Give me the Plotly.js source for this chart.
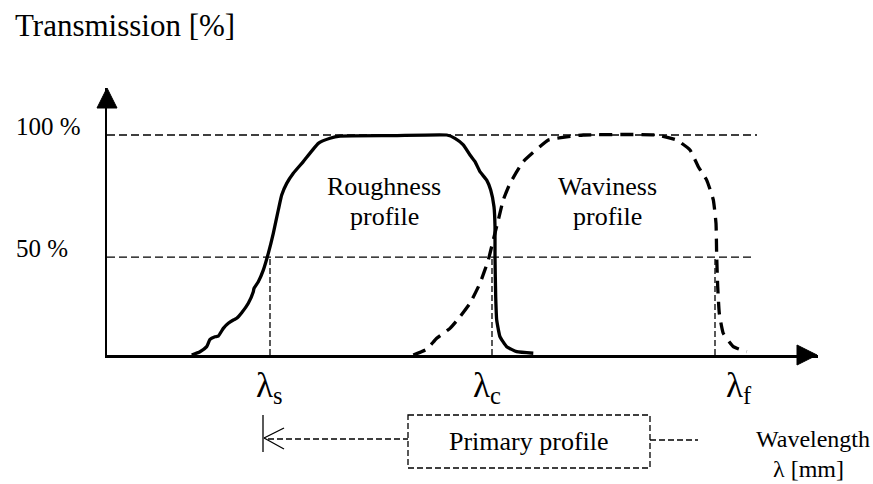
<!DOCTYPE html>
<html>
<head>
<meta charset="utf-8">
<script src="https://cdn.plot.ly/plotly-3.0.1.min.js"></script>
<style>html,body{margin:0;padding:0;background:#fff;}#chart{width:873px;height:484px;}</style>
</head>
<body>
<div id="chart"></div>
<script>
// ---- data (x: wavelength position, arbitrary units; y: transmission %) ----
const roughX = [84.7, 93, 99.7, 103, 108, 111.3, 116.3, 121.3, 126.3, 129.7, 134.7, 141.3, 146.3, 147, 151.3, 156.3, 161.3, 166.3, 171.3, 174.7, 179.7, 186.3, 196.3, 211.3, 223, 233, 286.3, 339.7, 348, 356.3, 363, 368, 373, 379.7, 383.7, 387, 388, 388, 388.7, 389.7, 393, 399.7, 409.7, 426.3];
const roughY = [0, 1.5, 3.8, 7.1, 8.3, 8.6, 12.1, 14.4, 15.9, 16.7, 19.2, 23.5, 28.8, 30.3, 33.3, 38.6, 46.2, 55.3, 65.9, 72.7, 78, 82.6, 87.9, 96.2, 98.5, 99.5, 99.7, 100, 98.5, 95.5, 90.9, 87.9, 83.3, 79.5, 75, 67.4, 58.3, 44.7, 26.5, 15.9, 8.3, 3.8, 1.5, 0.8];
const waveX = [306.3, 319.7, 329.7, 343, 353, 363, 373, 381.3, 386.3, 391.3, 396.3, 403, 416.3, 441.3, 449.7, 476.3, 549.7, 569.7, 583, 591.3, 599.7, 606.3, 609, 609.7, 610.7, 612.3, 616.3, 626.3, 639.7];
const waveY = [0, 2.6, 7.6, 12.1, 17.4, 23.5, 32.6, 43.2, 52.3, 61.4, 70.5, 78, 87.9, 97.7, 98.5, 100, 100, 97.7, 93.2, 85.6, 79.5, 70.5, 59.8, 44.7, 31.1, 19, 9.8, 3.8, 1.5];
const levelY = [44.5, 100];
const levelText = ["50 %", "100 %"];
const levelEndX = [648, 650];
const cutoffX = [163, 385, 608];
const cutoffText = ["λ<sub>s</sub>", "λ<sub>c</sub>", "λ<sub>f</sub>"];
const bandText = ["Roughness", "profile", "Waviness", "profile"];

// ---- layout helpers (pixel -> paper) ----
const W = 873, H = 484, L = 107, R = 818, T = 88, B = 355;
const px = v => (v - L) / (R - L);
const py = v => (B - v) / (B - T);
const FONT = 'Liberation Serif';

const traces = [];
levelY.forEach((lv, i) => traces.push({
  x: [0, levelEndX[i]], y: [lv, lv], mode: 'lines', hoverinfo: 'skip',
  line: {color: '#000', width: 1.3, dash: '8px,4px'}
}));
cutoffX.forEach(cx => traces.push({
  x: [cx, cx], y: [0, levelY[0]], mode: 'lines', hoverinfo: 'skip',
  line: {color: '#000', width: 1.3, dash: '6px,3px'}
}));
traces.push({x: roughX, y: roughY, mode: 'lines', name: 'Roughness profile',
  line: {color: '#000', width: 3.3, shape: 'spline', smoothing: 0.4}});
traces.push({x: waveX, y: waveY, mode: 'lines', name: 'Waviness profile',
  line: {color: '#000', width: 3.3, dash: '13px,8px', shape: 'spline', smoothing: 0.4}});

const ann = [];
ann.push({xref: 'paper', yref: 'paper', x: px(13), y: py(25), xanchor: 'left', yanchor: 'middle',
  text: 'Transmission [%]', showarrow: false, font: {family: FONT, size: 31, color: '#000'}});
levelY.forEach((lv, i) => ann.push({xref: 'paper', yref: 'y', x: px(14), y: lv, yshift: 9,
  xanchor: 'left', yanchor: 'middle', text: levelText[i], showarrow: false,
  font: {family: FONT, size: 25, color: '#000'}}));
const cutShift = [-1, -5, 24];
cutoffX.forEach((cx, i) => ann.push({xref: 'x', yref: 'paper', x: cx, xshift: cutShift[i], y: py(387),
  xanchor: 'center', yanchor: 'middle', text: cutoffText[i], showarrow: false,
  font: {family: FONT, size: 35, color: '#000'}}));
const bandPos = [[384, 186], [384, 216], [607, 186], [607, 216]];
bandText.forEach((t, i) => ann.push({xref: 'paper', yref: 'paper', x: px(bandPos[i][0]), y: py(bandPos[i][1]),
  xanchor: 'center', yanchor: 'middle', text: t, showarrow: false,
  font: {family: FONT, size: 26, color: '#000'}}));
ann.push({xref: 'paper', yref: 'paper', x: px(529), y: py(441), xanchor: 'center', yanchor: 'middle',
  text: 'Primary profile', showarrow: false, font: {family: FONT, size: 26, color: '#000'}});
ann.push({xref: 'paper', yref: 'paper', x: px(813), y: py(439), xanchor: 'center', yanchor: 'middle',
  text: 'Wavelength', showarrow: false, font: {family: FONT, size: 24, color: '#000'}});
ann.push({xref: 'paper', yref: 'paper', x: px(808), y: py(469), xanchor: 'center', yanchor: 'middle',
  text: 'λ [mm]', showarrow: false, font: {family: FONT, size: 24, color: '#000'}});

const P = (x, y) => px(x) + ',' + py(y);
const thin = {color: '#000', width: 1.3};
const dashed = {color: '#000', width: 1.3, dash: '6px,3px'};
const shapes = [
  // arrowheads
  {type: 'path', xref: 'paper', yref: 'paper', path: 'M' + P(97, 108) + ' L' + P(107, 88) + ' L' + P(117, 108) + ' Z',
   fillcolor: '#000', line: {color: '#000', width: 1}},
  {type: 'path', xref: 'paper', yref: 'paper', path: 'M' + P(797, 345) + ' L' + P(817, 355) + ' L' + P(797, 365) + ' Z',
   fillcolor: '#000', line: {color: '#000', width: 1}},
  // primary profile bracket
  {type: 'line', xref: 'paper', yref: 'paper', x0: px(263), y0: py(415), x1: px(263), y1: py(452), line: thin},
  {type: 'line', xref: 'paper', yref: 'paper', x0: px(264), y0: py(438), x1: px(284), y1: py(428), line: thin},
  {type: 'line', xref: 'paper', yref: 'paper', x0: px(264), y0: py(438), x1: px(284), y1: py(449), line: thin},
  {type: 'line', xref: 'paper', yref: 'paper', x0: px(268), y0: py(439), x1: px(408), y1: py(439), line: dashed},
  {type: 'rect', xref: 'paper', yref: 'paper', x0: px(408), y0: py(415), x1: px(650), y1: py(468), line: dashed},
  {type: 'line', xref: 'paper', yref: 'paper', x0: px(650), y0: py(440), x1: px(698), y1: py(440), line: dashed}
];

const layout = {
  width: W, height: H, showlegend: false,
  font: {family: FONT},
  paper_bgcolor: '#fff', plot_bgcolor: '#fff',
  margin: {l: L, r: W - R, t: T, b: H - B, pad: 0},
  xaxis: {range: [0, R - L], fixedrange: true, showgrid: false, zeroline: false, showticklabels: false,
    ticks: '', showline: true, linecolor: '#000', linewidth: 2.5},
  yaxis: {range: [0, (B - T) / 2.2], fixedrange: true, showgrid: false, zeroline: false, showticklabels: false,
    ticks: '', showline: true, linecolor: '#000', linewidth: 2.5},
  annotations: ann, shapes: shapes
};
Plotly.newPlot('chart', traces, layout, {displayModeBar: false, staticPlot: true});
</script>
</body>
</html>
